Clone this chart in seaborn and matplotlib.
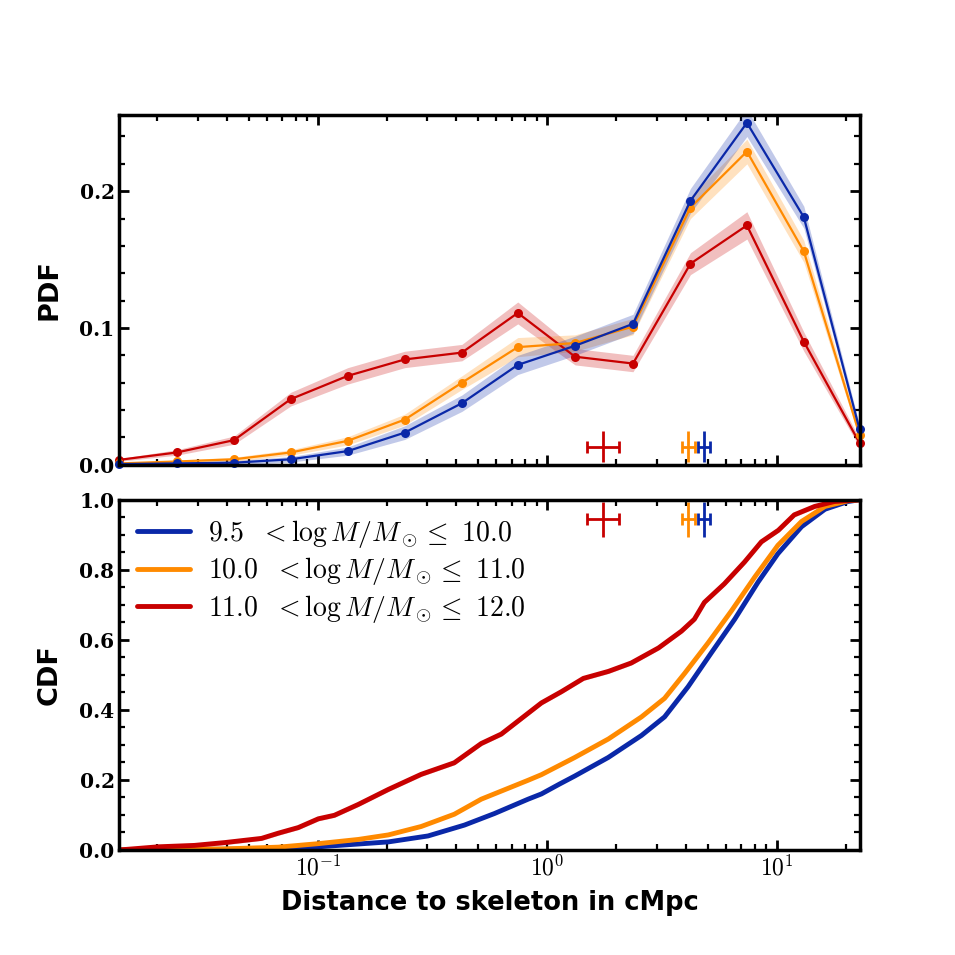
import numpy as np
import pandas as pd
import matplotlib
matplotlib.use("Agg")
import matplotlib.pyplot as plt
from matplotlib.ticker import MultipleLocator, FuncFormatter, LogLocator
import seaborn as sns

# ---------------- data ----------------
labels = [r"$\mathbf{9.5}\ \ <\log M/M_\odot \leq\ \mathbf{10.0}$",
          r"$\mathbf{10.0}\ \ <\log M/M_\odot \leq\ \mathbf{11.0}$",
          r"$\mathbf{11.0}\ \ <\log M/M_\odot \leq\ \mathbf{12.0}$"]
colors = ["#0a28a8", "#ff8a00", "#c80000"]

pdf_x = [0.01365, 0.0243, 0.0431, 0.0762, 0.135, 0.239, 0.424, 0.743,
         1.32, 2.36, 4.20, 7.40, 13.1, 22.9]
pdf_blue = [0.0005, 0.001, 0.0015, 0.004, 0.010, 0.0235, 0.045, 0.073,
            0.087, 0.103, 0.193, 0.250, 0.181, 0.026]
pdf_orange = [0.001, 0.0024, 0.004, 0.009, 0.0175, 0.033, 0.060, 0.086,
              0.089, 0.101, 0.188, 0.229, 0.156, 0.022]
pdf_red = [0.0036, 0.009, 0.018, 0.048, 0.065, 0.077, 0.082, 0.111,
           0.079, 0.074, 0.147, 0.175, 0.090, 0.016]
err_blue = [0.0005, 0.001, 0.0015, 0.002, 0.003, 0.005, 0.006, 0.007,
            0.007, 0.007, 0.009, 0.010, 0.008, 0.003]
err_orange = [0.0005, 0.001, 0.0015, 0.002, 0.003, 0.004, 0.005, 0.007,
              0.006, 0.006, 0.008, 0.009, 0.008, 0.003]
err_red = [0.001, 0.002, 0.003, 0.005, 0.006, 0.006, 0.006, 0.008,
           0.006, 0.006, 0.008, 0.010, 0.007, 0.003]

cdf_x_blue = [0.01365, 0.0673, 0.1005, 0.203, 0.302, 0.435, 0.588, 0.824,
              0.942, 1.128, 1.315, 1.84, 2.57, 3.24, 4.10, 5.18, 6.55, 8.28,
              10.1, 12.8, 16.2, 20.4, 22.9]
cdf_blue = [0.0, 0.003, 0.009, 0.023, 0.040, 0.071, 0.104, 0.145,
            0.160, 0.188, 0.211, 0.264, 0.327, 0.380, 0.466, 0.563, 0.659, 0.765,
            0.846, 0.923, 0.973, 0.995, 1.0]
cdf_x_orange = [0.01365, 0.0392, 0.0673, 0.1005, 0.150, 0.203, 0.282, 0.393,
                0.515, 0.824, 0.942, 1.315, 1.845, 2.57, 3.24, 3.97, 5.01, 6.34,
                8.00, 10.1, 12.8, 16.2, 20.4, 22.9]
cdf_orange = [0.0, 0.003, 0.008, 0.018, 0.030, 0.043, 0.067, 0.102,
              0.145, 0.199, 0.215, 0.264, 0.317, 0.380, 0.433, 0.505, 0.591, 0.683,
              0.779, 0.870, 0.938, 0.981, 0.997, 1.0]
cdf_x_red = [0.01365, 0.0202, 0.0290, 0.0392, 0.0568, 0.0673, 0.0822, 0.1005,
             0.118, 0.150, 0.203, 0.282, 0.393, 0.515, 0.630, 0.942, 1.151,
             1.435, 1.845, 2.32, 3.05, 3.84, 4.37, 4.83, 5.90, 7.22, 8.56,
             10.15, 11.9, 14.6, 17.8, 22.9]
cdf_red = [0.0, 0.009, 0.013, 0.021, 0.033, 0.048, 0.064, 0.089,
           0.099, 0.13, 0.173, 0.216, 0.249, 0.304, 0.331, 0.420, 0.452,
           0.490, 0.510, 0.534, 0.577, 0.625, 0.659, 0.707, 0.760, 0.822, 0.880,
           0.913, 0.957, 0.981, 0.995, 1.0]
cdf_err_red = 0.006

med = [4.80, 4.10, 1.75]
med_lo = [0.26, 0.26, 0.26]
med_hi = [0.33, 0.31, 0.30]

# ---------------- style ----------------
sns.set_theme(style="ticks")
plt.rcParams["font.family"] = ["DejaVu Sans"]
plt.rcParams["mathtext.fontset"] = "cm"
plt.rcParams["text.color"] = "black"
plt.rcParams["axes.labelcolor"] = "black"

fig, (ax1, ax2) = plt.subplots(2, 1, sharex=True, figsize=(9.55, 9.55), dpi=100)
fig.subplots_adjust(left=0.125, right=0.9, top=0.88, bottom=0.11, hspace=0.1)

pdfs = [pdf_blue, pdf_orange, pdf_red]
errs = [err_blue, err_orange, err_red]
cdfx = [cdf_x_blue, cdf_x_orange, cdf_x_red]
cdfs = [cdf_blue, cdf_orange, cdf_red]

for i in [2, 1, 0]:
    y = np.array(pdfs[i]); e = np.array(errs[i])
    ax1.fill_between(pdf_x, y - e, y + e, color=colors[i], alpha=0.25, lw=0)
    df = pd.DataFrame({"x": pdf_x, "y": pdfs[i]})
    sns.lineplot(data=df, x="x", y="y", ax=ax1, color=colors[i], lw=1.6,
                 marker="o", markersize=6.5, markeredgewidth=0, sort=False,
                 estimator=None, legend=False, clip_on=False)

for i in [0, 1, 2]:
    df = pd.DataFrame({"x": cdfx[i], "y": cdfs[i]})
    if i == 2:
        yy = np.array(cdfs[i])
        ax2.fill_between(cdfx[i], yy - cdf_err_red, yy + cdf_err_red,
                         color=colors[i], alpha=0.3, lw=0)
    sns.lineplot(data=df, x="x", y="y", ax=ax2, color=colors[i], lw=3.5,
                 sort=False, estimator=None, label=labels[i])

# median markers
for i in range(3):
    for ax, yc, ye in [(ax1, 0.0133, 0.0115), (ax2, 0.945, 0.05)]:
        ax.errorbar([med[i]], [yc], xerr=[[med_lo[i]], [med_hi[i]]], fmt="none",
                    ecolor=colors[i], elinewidth=2, capsize=4.5, capthick=2)
        ax.errorbar([med[i]], [yc], yerr=[ye], fmt="none",
                    ecolor=colors[i], elinewidth=2, capsize=0)

ax1.set_xscale("log")
ax1.set_xlim(pdf_x[0], pdf_x[-1])
ax1.set_ylim(0, 0.256)
ax2.set_ylim(0, 1.0)

ax1.yaxis.set_major_locator(MultipleLocator(0.1))
ax1.yaxis.set_minor_locator(MultipleLocator(0.02))
ax2.yaxis.set_major_locator(MultipleLocator(0.2))
ax2.yaxis.set_minor_locator(MultipleLocator(0.05))
ax2.xaxis.set_major_locator(LogLocator(base=10))
ax2.xaxis.set_minor_locator(LogLocator(base=10, subs=np.arange(2, 10)))

yfmt = FuncFormatter(lambda v, p: "%.1f" % v)
ax1.yaxis.set_major_formatter(yfmt)
ax2.yaxis.set_major_formatter(yfmt)
ax2.xaxis.set_major_formatter(FuncFormatter(lambda v, p: r"$10^{%d}$" % round(np.log10(v))))

for ax in (ax1, ax2):
    for s in ax.spines.values():
        s.set_linewidth(2.5)
        s.set_color("black")
    ax.tick_params(which="both", direction="in", top=True, right=True,
                   color="black", labelcolor="black")
    ax.tick_params(axis="y", labelsize=14.5)
    ax.tick_params(axis="x", labelsize=17)
    ax.tick_params(which="major", length=7, width=2)
    ax.tick_params(which="minor", length=4, width=1.6)
    ax.set_xlabel("")

ax1.set_ylabel("PDF", fontsize=19.5, fontweight="bold", labelpad=12, color="black")
ax2.set_ylabel("CDF", fontsize=19.5, fontweight="bold", labelpad=12, color="black")
ax2.set_xlabel("Distance to skeleton in cMpc", fontsize=18.5, fontweight="bold",
               labelpad=7, color="black")

leg = ax2.legend(loc="upper left", frameon=False, fontsize=20, handlelength=1.9,
                 handletextpad=0.65, borderaxespad=0.25, labelspacing=0.2)
for t in leg.get_texts():
    t.set_color("black")

fig.canvas.draw()
for ax in (ax1, ax2):
    for t in ax.get_yticklabels():
        t.set_fontfamily("DejaVu Serif")
        t.set_fontweight("bold")

fig.savefig("out.png", dpi=100)
